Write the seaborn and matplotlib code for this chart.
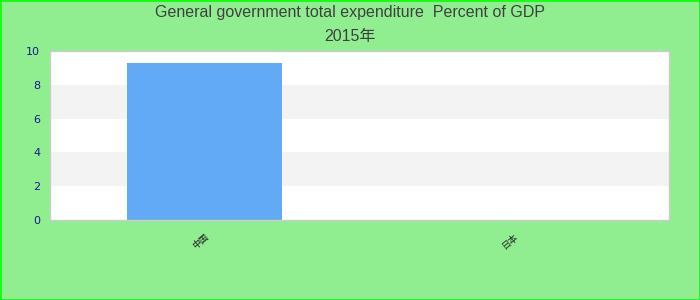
import matplotlib
matplotlib.use("Agg")
import matplotlib.pyplot as plt
import seaborn as sns
import pandas as pd
from matplotlib.patches import Rectangle

categories = ["中国", "日本"]
values = [9.3, 0.0]
title_line1 = "General government total expenditure  Percent of GDP"
title_line2 = "2015年"
yticks = [0, 2, 4, 6, 8, 10]

sns.set_theme(style="white")
plt.rcParams['font.family'] = ['DejaVu Sans', 'Noto Sans CJK SC']

df = pd.DataFrame({"cat": categories, "val": values})

fig = plt.figure(figsize=(7, 3), dpi=100, facecolor="#90EE90")
ax = fig.add_axes([50/700, 1 - 220/300, 619/700, 169/300])
ax.set_facecolor("white")

# alternating bands
for i, y0 in enumerate(yticks[:-1]):
    if i % 2 == 1:
        ax.axhspan(y0, yticks[i + 1], color="#f3f3f3", zorder=0, lw=0)

sns.barplot(data=df, x="cat", y="val", color="#62a9f6", saturation=1,
            width=0.5, ax=ax, zorder=2, linewidth=0)
ax.set_ylim(0, 10)
ax.set_xlim(-0.5, 1.5)
ax.set_yticks(yticks)
ax.set_yticklabels([str(t) for t in yticks], color="#1a1a8c", fontsize=8)
ax.tick_params(axis="y", length=0, pad=7)
ax.tick_params(axis="x", length=0, pad=9)
ax.set_xticks(range(len(categories)))
ax.set_xticklabels(categories, rotation=40, ha="right", fontsize=6.5,
                   color="#222222", rotation_mode="anchor")
ax.set_xlabel("")
ax.set_ylabel("")
for s in ax.spines.values():
    s.set_color("#cccccc")
    s.set_linewidth(1)

fig.text(0.5, 1 - 13/300, title_line1, ha="center", va="center",
         fontsize=11.5, color="#404040", family=["Liberation Sans", "Noto Sans CJK SC"])
fig.text(0.5, 1 - 36/300, title_line2, ha="center", va="center",
         fontsize=11.5, color="#404040", family=["Liberation Sans", "Noto Sans CJK SC"])

fig.patches.append(Rectangle((0.5/700, 0.5/300), 699/700, 299/300, transform=fig.transFigure,
                             fill=False, edgecolor="#00ff00", linewidth=1.2))

fig.savefig("out.png", dpi=100, facecolor=fig.get_facecolor())
